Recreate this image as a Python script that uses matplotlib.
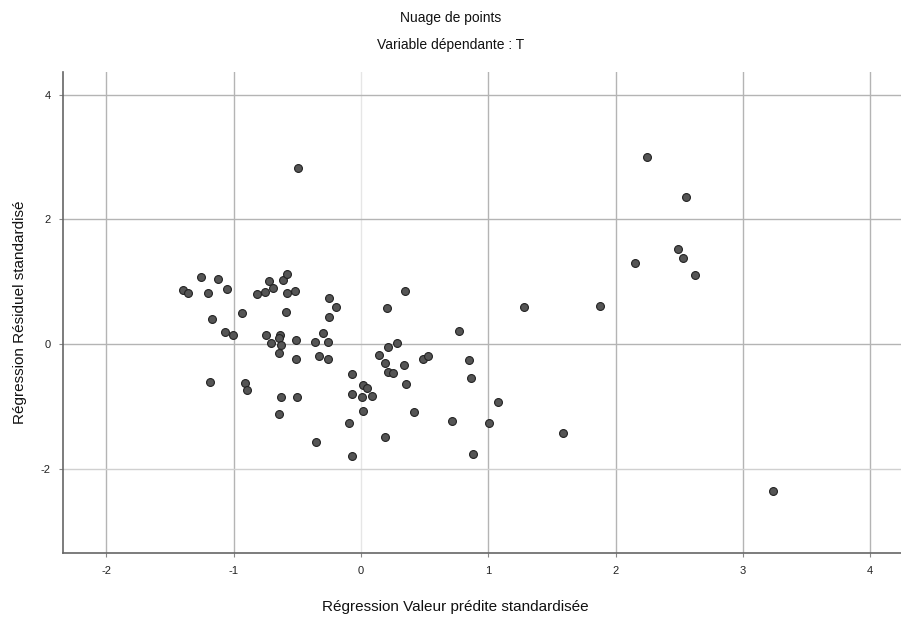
import matplotlib
matplotlib.use("Agg")
import matplotlib.pyplot as plt

plt.rcParams['font.family'] = ['Liberation Sans', 'DejaVu Sans']

pred = [-1.401, -1.357, -1.259, -1.200, -1.121, -1.050, -1.173, -0.932, -1.068, -1.003,
        -1.186, -0.911, -0.893, -0.819, -0.754, -0.723, -0.689, -0.610, -0.579, -0.584,
        -0.518, -0.589, -0.746, -0.709, -0.636, -0.642, -0.628, -0.642, -0.511, -0.511,
        -0.628, -0.500, -0.644, -0.353, -0.249, -0.196, -0.249, -0.296, -0.361, -0.262,
        -0.328, -0.257, -0.073, -0.073, 0.018, 0.045, 0.005, 0.089, 0.018, -0.092,
        -0.073, 0.207, 0.346, 0.144, 0.189, 0.214, 0.280, 0.214, 0.254, 0.340,
        0.351, 0.189, 0.416, 0.489, 0.524, 0.772, 0.851, 0.864, 0.712, 0.877,
        1.008, 1.079, -0.493, 2.244, 2.553, 2.493, 2.527, 2.624, 2.152, 1.877,
        1.283, 1.589, 3.239]
resid = [0.867, 0.824, 1.071, 0.814, 1.039, 0.879, 0.397, 0.493, 0.198, 0.145,
         -0.606, -0.622, -0.739, 0.803, 0.840, 1.017, 0.895, 1.028, 1.124, 0.814,
         0.856, 0.519, 0.145, 0.011, 0.145, 0.092, -0.016, -0.140, 0.064, -0.246,
         -0.847, -0.847, -1.129, -1.569, 0.744, 0.590, 0.439, 0.182, 0.037, 0.037,
         -0.193, -0.246, -0.487, -0.803, -0.659, -0.712, -0.847, -0.835, -1.071, -1.274,
         -1.794, 0.573, 0.856, -0.177, -0.310, -0.043, 0.011, -0.445, -0.461, -0.337,
         -0.643, -1.499, -1.097, -0.246, -0.193, 0.214, -0.257, -0.551, -1.232, -1.767,
         -1.264, -0.937, 2.822, 3.009, 2.366, 1.521, 1.386, 1.108, 1.296, 0.615,
         0.599, -1.435, -2.357]

x_ticks = [-2, -1, 0, 1, 2, 3, 4]
y_ticks = [-2, 0, 2, 4]

fig = plt.figure(figsize=(9.01, 6.25), dpi=100)
ax = fig.add_axes([0.070, 0.1152, 0.93, 0.7696])

for xv in x_ticks:
    ax.axvline(xv, color='#b4b4b4' if xv != 0 else '#e6e6e6', lw=1.0, zorder=1)
for yv in y_ticks:
    ax.axhline(yv, color='#b4b4b4' if yv != -2 else '#d0d0d0', lw=1.0, zorder=1)

ax.scatter(pred, resid, s=32, facecolor='#555555', edgecolor='#222222', linewidths=0.8, zorder=3)

ax.set_xlim(-2.341, 4.242)
ax.set_ylim(-3.357, 4.369)
ax.set_xticks(x_ticks)
ax.set_yticks(y_ticks)
ax.set_xticklabels([str(v) for v in x_ticks])
ax.set_yticklabels([str(v) for v in y_ticks])
ax.tick_params(axis='both', length=3, width=0.8, color='#888888', labelsize=8, labelcolor='#222222', pad=6)

for s in ['top', 'right']:
    ax.spines[s].set_visible(False)
for s in ['left', 'bottom']:
    ax.spines[s].set_color('#666666')
    ax.spines[s].set_linewidth(1.2)

fig.text(0.5, 1 - 18/625, 'Nuage de points', ha='center', va='center', fontsize=10, color='#111111')
fig.text(0.5, 1 - 45/625, 'Variable dépendante : T', ha='center', va='center', fontsize=10, color='#111111')
fig.text(0.505, 1 - 607/625, 'Régression Valeur prédite standardisée', ha='center', va='center', fontsize=11, color='#111111')
fig.text(20/901, 1 - 312/625, 'Régression Résiduel standardisé', ha='center', va='center', rotation=90, fontsize=11, color='#111111')

fig.savefig('out.png', dpi=100)
